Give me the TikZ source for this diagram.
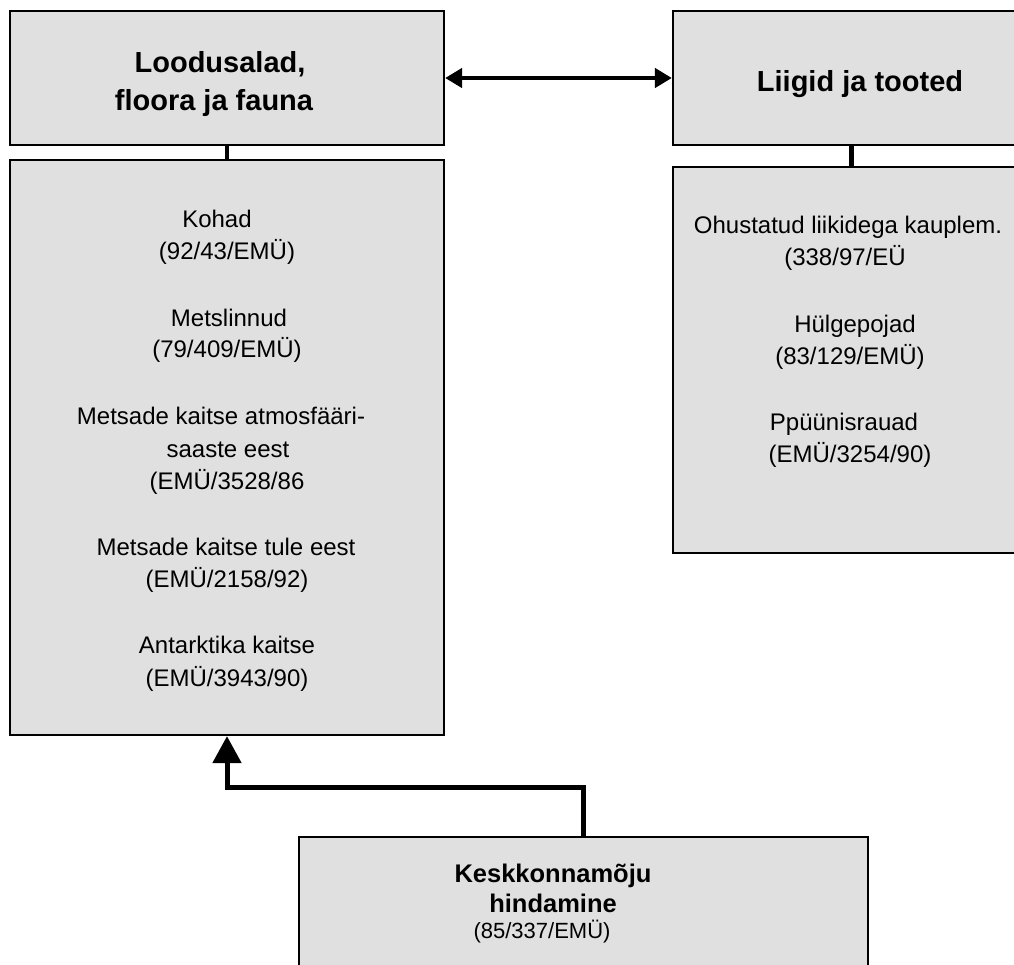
\documentclass[tikz,border=0pt]{standalone}
\usepackage{fontspec}
\setmainfont{Liberation Sans}
\usetikzlibrary{arrows.meta}
\definecolor{boxfill}{RGB}{224,224,224}
\tikzset{
  panel/.style={draw=black, fill=boxfill, line width=2.2pt, inner sep=0pt},
  head/.style={anchor=base, inner sep=0pt, font=\fontsize{29}{34}\selectfont\bfseries},
  subhead/.style={anchor=base, inner sep=0pt, font=\fontsize{25.5}{30}\selectfont\bfseries},
  entry/.style={anchor=base, inner sep=0pt, font=\fontsize{24}{28}\selectfont},
  small/.style={anchor=base, inner sep=0pt, font=\fontsize{22}{26}\selectfont},
  link/.style={line width=4.5pt},
  both/.style={line width=4.5pt, {Triangle[length=17pt,width=19pt]}-{Triangle[length=17pt,width=19pt]}},
  feed/.style={line width=5pt, -{Triangle[length=27pt,width=28pt]}}
}
\begin{document}
\begin{tikzpicture}[x=1pt, y=-1pt]
\path[use as bounding box] (0,0) rectangle (1014,964);
\clip (0,0) rectangle (1014,964);

% boxes
\node[panel, minimum width=434pt, minimum height=134pt] (loodus) at (227,78) {};
\node[panel, minimum width=434pt, minimum height=575pt] (kaitse) at (227,447.5) {};
\node[panel, minimum width=357pt, minimum height=134pt] (liigid) at (851.5,78) {};
\node[panel, minimum width=357pt, minimum height=386pt] (tooted) at (851.5,360) {};
\node[panel, minimum width=569pt, minimum height=163pt] (kesk) at (583.5,918.5) {};

% titles
\node[head] (t1a) at (220,72) {Loodusalad,};
\node[head] (t1b) at (214,110) {floora ja fauna};
\node[head] (t2) at (860,91) {Liigid ja tooted};
\node[subhead] (t3a) at (553,882) {Keskkonnamõju};
\node[subhead] (t3b) at (553,912) {hindamine};
\node[small] (t3c) at (542,938) {(85/337/EMÜ)};

% left list
\node[entry] (k1) at (217,227) {Kohad};
\node[entry] (k2) at (227,259) {(92/43/EMÜ)};
\node[entry] (k3) at (229,326) {Metslinnud};
\node[entry] (k4) at (227,357) {(79/409/EMÜ)};
\node[entry] (k5) at (221,424) {Metsade kaitse atmosfääri-};
\node[entry] (k6) at (228,457) {saaste eest};
\node[entry] (k7) at (227,489) {(EMÜ/3528/86};
\node[entry] (k8) at (226,555) {Metsade kaitse tule eest};
\node[entry] (k9) at (227,587) {(EMÜ/2158/92)};
\node[entry] (k10) at (227,653) {Antarktika kaitse};
\node[entry] (k11) at (227,686) {(EMÜ/3943/90)};

% right list
\node[entry] (r1) at (848,233) {Ohustatud liikidega kauplem.};
\node[entry] (r2) at (845,265) {(338/97/EÜ};
\node[entry] (r3) at (855,332) {Hülgepojad};
\node[entry] (r4) at (850,364) {(83/129/EMÜ)};
\node[entry] (r5) at (844,430) {Ppüünisrauad};
\node[entry] (r6) at (850,462) {(EMÜ/3254/90)};

% connectors
\draw[link] (loodus.south) -- (kaitse.north);
\draw[link] (liigid.south) -- (tooted.north);
\draw[both] (loodus.east) -- (liigid.west);
\coordinate (bend) at (227,787);
\draw[feed] (kesk.north) |- (bend) -- (kaitse.south);
\end{tikzpicture}
\end{document}
